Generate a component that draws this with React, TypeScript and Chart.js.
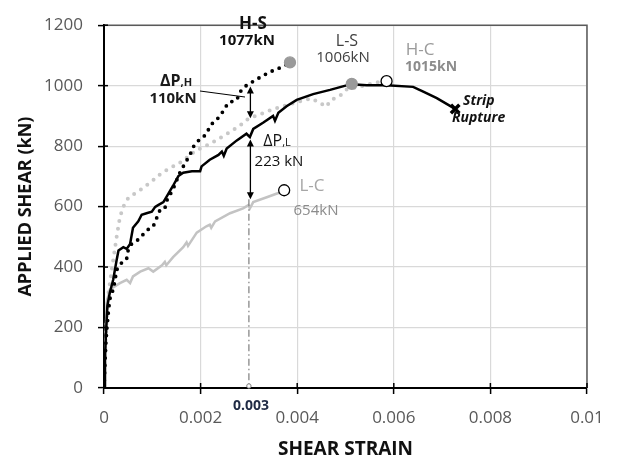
import React, { useEffect, useRef } from "react";
import { Chart, registerables } from "chart.js";

Chart.register(...registerables);

// H-S : black dotted
const hsStrain = [0, 0.00002, 0.00004, 0.000055, 0.00009, 0.00012, 0.00019, 0.00023, 0.00026, 0.00033, 0.0004, 0.00047, 0.0005, 0.00057, 0.00068, 0.00075, 0.00081, 0.00095, 0.00102, 0.00109, 0.00116, 0.00126, 0.0013, 0.00143, 0.00157, 0.00168, 0.00178, 0.00185, 0.00199, 0.00209, 0.00223, 0.00237, 0.00247, 0.00257, 0.00275, 0.00282, 0.00295, 0.00313, 0.0033, 0.0035, 0.00368, 0.00385];
const hsLoad = [0, 80, 150, 187, 251, 294, 326, 358, 390, 406, 422, 428, 455, 476, 487, 498, 508, 530, 535, 562, 589, 594, 620, 658, 712, 744, 771, 798, 825, 835, 873, 894, 916, 943, 953, 980, 1001, 1018, 1034, 1050, 1061, 1077];

// H-C : light grey dotted
const hcStrain = [0, 0.00003, 0.00008, 0.00016, 0.00026, 0.00033, 0.0004, 0.0005, 0.00065, 0.0008, 0.001, 0.0012, 0.0014, 0.0016, 0.0019, 0.0022, 0.0025, 0.0028, 0.003, 0.0032, 0.0035, 0.0037, 0.0041, 0.0043, 0.0045, 0.0046, 0.0047, 0.0049, 0.005, 0.0052, 0.0054, 0.0056, 0.00585];
const hcLoad = [0, 150, 300, 390, 498, 565, 600, 628, 645, 660, 685, 712, 730, 748, 785, 808, 836, 866, 892, 903, 922, 932, 950, 958, 940, 930, 952, 969, 986, 994, 1001, 1010, 1015];

// L-S : black solid (continues to strip rupture)
const lsStrain = [0, 0.00002, 0.00004, 0.00007, 0.00012, 0.00019, 0.00026, 0.0003, 0.0004, 0.00047, 0.00054, 0.0006, 0.00071, 0.00078, 0.00088, 0.00099, 0.00106, 0.00112, 0.00123, 0.0013, 0.00143, 0.00154, 0.00164, 0.00182, 0.00199, 0.00202, 0.00219, 0.00237, 0.00244, 0.00248, 0.00254, 0.00275, 0.00295, 0.00302, 0.00309, 0.0033, 0.0035, 0.00354, 0.00361, 0.00378, 0.00399, 0.00433, 0.00468, 0.00502, 0.00513, 0.00544, 0.00585, 0.0064, 0.00661, 0.00689, 0.00727];
const lsLoad = [0, 100, 176, 272, 315, 358, 422, 455, 466, 460, 476, 530, 551, 573, 578, 583, 599, 605, 615, 634, 669, 701, 712, 717, 717, 733, 755, 771, 782, 768, 792, 819, 841, 830, 857, 878, 900, 884, 910, 932, 953, 972, 986, 1001, 1005, 1001, 1001, 996, 980, 959, 923];

// L-C : light grey solid
const lcStrain = [0, 0.00002, 0.00004, 0.000055, 0.00012, 0.00023, 0.00033, 0.00047, 0.00054, 0.0006, 0.00075, 0.00092, 0.00102, 0.0012, 0.00126, 0.00129, 0.00143, 0.00164, 0.00171, 0.00174, 0.00192, 0.00212, 0.00219, 0.00222, 0.0023, 0.00261, 0.00288, 0.00299, 0.00302, 0.00309, 0.00337, 0.00361, 0.00373];
const lcLoad = [0, 100, 200, 283, 326, 337, 347, 358, 347, 369, 385, 396, 385, 406, 417, 406, 433, 466, 482, 470, 514, 535, 540, 530, 551, 578, 594, 605, 594, 615, 631, 645, 654];

// peak markers
const peakNames = ["H-S", "L-S", "H-C", "L-C"];
const peakStrain = [0.00385, 0.00513, 0.00585, 0.00373];
const peakLoad = [1077, 1006, 1015, 654];
const ruptureStrain = [0.00727];
const ruptureLoad = [923];

// axis ticks
const xTicks = [0, 0.002, 0.004, 0.006, 0.008, 0.01];
const yTicks = [0, 200, 400, 600, 800, 1000, 1200];

// annotations (data units)
const refStrain = 0.003;
const dPH = [997, 892]; // H-S -> H-C at 0.003
const dPL = [822, 624]; // L-S -> L-C at 0.003

const pts = (xs: number[], ys: number[]) => xs.map((x, i) => ({ x, y: ys[i] }));

const FONT = "'Open Sans', 'Liberation Sans', sans-serif";

function arrow(ctx: CanvasRenderingContext2D, x: number, y1: number, y2: number) {
  ctx.save();
  ctx.strokeStyle = "#000";
  ctx.fillStyle = "#000";
  ctx.lineWidth = 1.3;
  ctx.beginPath();
  ctx.moveTo(x, y1 + 4);
  ctx.lineTo(x, y2 - 4);
  ctx.stroke();
  const h = 7, w = 3.5;
  ctx.beginPath();
  ctx.moveTo(x, y1);
  ctx.lineTo(x - w, y1 + h);
  ctx.lineTo(x + w, y1 + h);
  ctx.closePath();
  ctx.fill();
  ctx.beginPath();
  ctx.moveTo(x, y2);
  ctx.lineTo(x - w, y2 - h);
  ctx.lineTo(x + w, y2 - h);
  ctx.closePath();
  ctx.fill();
  ctx.restore();
}

function text(ctx: CanvasRenderingContext2D, s: string, x: number, y: number, font: string, color: string, align: CanvasTextAlign = "center") {
  ctx.font = font;
  ctx.fillStyle = color;
  ctx.textAlign = align;
  ctx.textBaseline = "middle";
  ctx.fillText(s, x, y);
}

function deltaLabel(ctx: CanvasRenderingContext2D, sub: string, cx: number, y: number, bold: boolean, color: string) {
  const w = bold ? "bold " : "";
  ctx.font = `${w}16px ${FONT}`;
  const a = ctx.measureText("ΔP").width;
  ctx.font = `${w}11px ${FONT}`;
  const b = ctx.measureText(sub).width;
  const x0 = cx - (a + b) / 2;
  text(ctx, "ΔP", x0, y, `${w}16px ${FONT}`, color, "left");
  text(ctx, sub, x0 + a, y + 2, `${w}11px ${FONT}`, color, "left");
}

const annotPlugin = {
  id: "annot",
  afterDatasetsDraw(chart: any) {
    const { ctx, chartArea: ca, scales } = chart;
    const xs = scales.x, ys = scales.y;
    ctx.save();
    // frame top/right
    ctx.strokeStyle = "#5a5a5a";
    ctx.lineWidth = 1.5;
    ctx.beginPath();
    ctx.moveTo(ca.left, ca.top);
    ctx.lineTo(ca.right, ca.top);
    ctx.lineTo(ca.right, ca.bottom);
    ctx.stroke();
    // inner tick marks (cross ticks)
    ctx.strokeStyle = "#000";
    ctx.lineWidth = 1.5;
    xTicks.forEach((v) => {
      const px = xs.getPixelForValue(v);
      ctx.beginPath();
      ctx.moveTo(px, ca.bottom);
      ctx.lineTo(px, ca.bottom - 5);
      ctx.stroke();
    });
    yTicks.forEach((v) => {
      const py = ys.getPixelForValue(v);
      ctx.beginPath();
      ctx.moveTo(ca.left, py);
      ctx.lineTo(ca.left + 4, py);
      ctx.stroke();
    });

    const rx = xs.getPixelForValue(refStrain);
    // dash-dot reference line
    ctx.strokeStyle = "#7f7f7f";
    ctx.lineWidth = 1.2;
    ctx.setLineDash([7, 3, 1.5, 3]);
    ctx.beginPath();
    ctx.moveTo(rx, ys.getPixelForValue(dPL[1]));
    ctx.lineTo(rx, ca.bottom);
    ctx.stroke();
    ctx.setLineDash([]);
    ctx.fillStyle = "#fff";
    ctx.strokeStyle = "#7f7f7f";
    ctx.lineWidth = 1;
    ctx.beginPath();
    ctx.arc(rx, ca.bottom - 2, 2.2, 0, Math.PI * 2);
    ctx.fill();
    ctx.stroke();

    // arrows
    arrow(ctx, rx + 1.5, ys.getPixelForValue(dPH[0]), ys.getPixelForValue(dPH[1]));
    arrow(ctx, rx + 1.5, ys.getPixelForValue(dPL[0]), ys.getPixelForValue(dPL[1]));

    // leader line for ΔP,H
    ctx.strokeStyle = "#000";
    ctx.lineWidth = 1;
    ctx.beginPath();
    ctx.moveTo(200, 91);
    ctx.lineTo(245, 97);
    ctx.stroke();

    // labels
    deltaLabel(ctx, ",H", 176, 81, true, "#1a1a1a");
    text(ctx, "110kN", 173, 99, `bold 15px ${FONT}`, "#1a1a1a");
    deltaLabel(ctx, ",L", 277, 141, false, "#111");
    text(ctx, "223 kN", 279, 162, `15px ${FONT}`, "#111");

    text(ctx, peakNames[0], 253, 24, `bold 17px ${FONT}`, "#111");
    text(ctx, "1077kN", 247, 41, `bold 15px ${FONT}`, "#111");
    text(ctx, peakNames[1], 347, 41, `16px ${FONT}`, "#404040");
    text(ctx, "1006kN", 343, 58, `15px ${FONT}`, "#404040");
    text(ctx, peakNames[2], 420, 50, `17px ${FONT}`, "#9a9a9a");
    text(ctx, "1015kN", 431, 67, `bold 14px ${FONT}`, "#8c8c8c");
    text(ctx, peakNames[3], 312, 186, `17px ${FONT}`, "#a6a6a6");
    text(ctx, "654kN", 316, 211, `15px ${FONT}`, "#8c8c8c");

    text(ctx, "Strip", 463, 101, `italic bold 14px ${FONT}`, "#111", "left");
    text(ctx, "Rupture", 452, 118, `italic bold 14px ${FONT}`, "#111", "left");

    text(ctx, "0.003", rx + 2, 406, `bold 14px ${FONT}`, "#1f2a44");

    // axis titles
    text(ctx, "SHEAR STRAIN", (ca.left + ca.right) / 2, 450, `bold 19px ${FONT}`, "#111");
    ctx.save();
    ctx.translate(26, (ca.top + ca.bottom) / 2);
    ctx.rotate(-Math.PI / 2);
    text(ctx, "APPLIED SHEAR (kN)", 0, 0, `bold 18px ${FONT}`, "#111");
    ctx.restore();
    ctx.restore();
  },
};

export default function App() {
  const ref = useRef<HTMLCanvasElement | null>(null);
  useEffect(() => {
    if (!ref.current) return;
    const chart = new Chart(ref.current, {
      type: "line",
      data: {
        datasets: [
          {
            label: "H-C",
            data: pts(hcStrain, hcLoad),
            borderColor: "#c8c8c8",
            borderWidth: 4,
            borderDash: [0, 8],
            borderCapStyle: "round",
            pointRadius: 0,
            tension: 0,
            order: 5,
          },
          {
            label: "L-C",
            data: pts(lcStrain, lcLoad),
            borderColor: "#c3c3c3",
            borderWidth: 2.5,
            pointRadius: 0,
            tension: 0,
            order: 4,
          },
          {
            label: "L-S",
            data: pts(lsStrain, lsLoad),
            borderColor: "#000",
            borderWidth: 2.5,
            pointRadius: 0,
            tension: 0,
            order: 3,
          },
          {
            label: "H-S",
            data: pts(hsStrain, hsLoad),
            borderColor: "#000",
            borderWidth: 3.8,
            borderDash: [0, 7.5],
            borderCapStyle: "round",
            pointRadius: 0,
            tension: 0,
            order: 2,
          },
          {
            label: "Peaks",
            data: pts(peakStrain, peakLoad),
            showLine: false,
            pointRadius: 5.5,
            pointBackgroundColor: ["#9a9a9a", "#9a9a9a", "#ffffff", "#ffffff"],
            pointBorderColor: ["#9a9a9a", "#9a9a9a", "#000", "#000"],
            pointBorderWidth: 1.3,
            order: 1,
          },
          {
            label: "Strip Rupture",
            data: pts(ruptureStrain, ruptureLoad),
            showLine: false,
            pointStyle: "crossRot",
            pointRadius: 6,
            pointBorderColor: "#000",
            pointBorderWidth: 3.5,
            order: 0,
          },
        ],
      },
      options: {
        responsive: false,
        animation: false,
        parsing: false as any,
        layout: { padding: { top: 15, right: 35, left: 0, bottom: 0 } },
        plugins: { legend: { display: false }, tooltip: { enabled: false } },
        scales: {
          x: {
            type: "linear",
            min: 0,
            max: 0.01,
            afterFit: (s: any) => { s.height = 76; },
            afterBuildTicks: (s: any) => { s.ticks = xTicks.map((v) => ({ value: v })); },
            ticks: {
              callback: (v: any) => String(Number(Number(v).toFixed(4))),
              color: "#595959",
              font: { family: FONT, size: 17 },
              padding: 14,
              maxRotation: 0,
            },
            grid: { color: "#d9d9d9", lineWidth: 1.2, tickLength: 6, tickColor: "#000", tickWidth: 1.5 },
            border: { color: "#000", width: 2 },
          },
          y: {
            type: "linear",
            min: 0,
            max: 1200,
            afterFit: (s: any) => { s.width = 104; },
            afterBuildTicks: (s: any) => { s.ticks = yTicks.map((v) => ({ value: v })); },
            ticks: {
              callback: (v: any) => String(v),
              color: "#595959",
              font: { family: FONT, size: 17 },
              padding: 15,
            },
            grid: { color: "#d9d9d9", lineWidth: 1.2, tickLength: 6, tickColor: "#000", tickWidth: 1.5 },
            border: { color: "#000", width: 2 },
          },
        },
      },
      plugins: [annotPlugin],
    });
    return () => chart.destroy();
  }, []);
  return (
    <div style={{ position: "absolute", left: 0, top: 0, width: 622, height: 464, background: "#fff" }}>
      <canvas ref={ref} width={622} height={464} style={{ display: "block" }} />
    </div>
  );
}
